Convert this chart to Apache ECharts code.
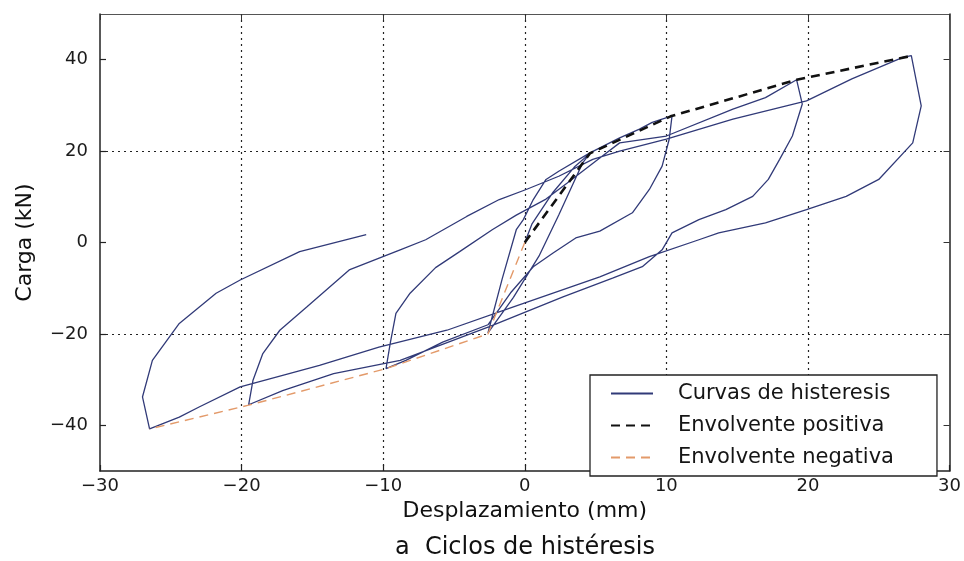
<!DOCTYPE html>
<html><head><meta charset="utf-8">
<script src="https://cdn.jsdelivr.net/npm/echarts@6/dist/echarts.min.js"></script>
<style>html,body{margin:0;padding:0;background:#fff}#c{width:964px;height:561px}</style>
</head><body><div id="c"></div>
<script>
// Hysteresis curve (displacement mm, load kN), in drawing order
const hystX = [0,0.5,2,3.5,4.6,4.1,2.4,1,-0.8,-2.6,
  -1.6,-0.6,-0.1,0.6,1.5,2.4,4.6,6.7,8.1,9,10.4,
  10.2,9.7,8.8,7.6,5.3,3.6,2,0.6,-1,-2.6,-5.8,-8.4,-9.8,
  -9.5,-9.1,-8.1,-6.3,-4.6,-2.3,-0.6,1.5,3,5.3,6.7,10,14.7,17,19.2,
  19.6,18.9,18,17.2,16.1,14.2,12.3,10.4,9.7,8.3,6.2,2.7,-2.5,-8.8,-13.5,-17.1,-19.5,
  -19.2,-18.5,-17.3,-15.4,-12.4,-8.8,-7,-4.1,-1.8,0.1,2.4,4.8,6.7,10,14.7,19.9,23.1,26.7,27.3,
  28,27.4,25,22.7,19.9,17,13.7,12.3,8.8,5.3,-0.8,-5.5,-10.3,-14.5,-17.1,-20.1,-23,-24.4,-26.5,
  -27,-26.3,-24.4,-21.8,-20.1,-15.9,-11.2];
const hystY = [0,4,11,16.5,19.5,17.5,6,-3,-12,-19.8,
  -8,2.8,5,9.4,13.8,15.6,19.6,22.9,24.8,26.3,27.7,
  22.6,16.7,11.6,6.5,2.5,1,-2.3,-5.3,-11,-18,-21.8,-25.8,-27.6,
  -22,-15.5,-11.1,-5.5,-2,2.8,6,9.5,13,18.5,21.8,23.3,29.2,31.7,35.6,
  30.3,23.3,18.2,13.8,10.1,7.2,5,2.1,-1.6,-5.3,-7.8,-11.9,-18.4,-25.8,-28.7,-32.4,-35.5,
  -30.2,-24.3,-19.2,-14.1,-6,-1.6,0.6,5.7,9.4,11.6,14.5,18.2,20,22.6,27,31,35.8,40.5,40.9,
  29.9,21.8,13.8,10.1,7.2,4.3,2.1,0.6,-3.1,-7.5,-14.1,-19.2,-22.9,-26.9,-29.1,-31.6,-36,-38.2,-40.8,
  -33.8,-25.8,-17.7,-11.1,-8.2,-2,1.7];
// Envelopes
const envPosX = [0, 4.6, 10.3, 19.2, 27.1];
const envPosY = [0, 19.5, 27.6, 35.6, 40.7];
const envNegX = [0, -2.6, -9.8, -19.5, -26.5];
const envNegY = [0, -20, -27.6, -35.6, -40.8];
// Axis ticks / labels
const yTicks = [-40, -20, 0, 20, 40];
const seriesNames = ['Curvas de histeresis', 'Envolvente positiva', 'Envolvente negativa'];
const xName = 'Desplazamiento (mm)';
const yName = 'Carga (kN)';
const caption = 'a  Ciclos de histéresis';

const FONT = '"DejaVu Sans", "Liberation Sans", Arial, sans-serif';
const pairs = (xs, ys) => xs.map((x, i) => [x, ys[i]]);
const fmt = v => (v < 0 ? '\u2212' + (-v) : String(v));

const chart = echarts.init(document.getElementById('c'), null, {renderer: 'canvas'});
chart.setOption({
  animation: false,
  backgroundColor: '#fff',
  grid: {left: 100, right: 14, top: 14, bottom: 90},
  xAxis: [{
    type: 'value', min: -30, max: 30, interval: 10, position: 'bottom',
    axisLine: {show: true, onZero: false, lineStyle: {color: '#222', width: 1.5}},
    axisTick: {show: true, inside: true, length: 6, lineStyle: {color: '#222', width: 1.2}},
    axisLabel: {fontSize: 18, color: '#1a1a1a', margin: 6, fontFamily: FONT, formatter: fmt},
    splitLine: {show: true, showMinLine: false, showMaxLine: false,
      lineStyle: {color: '#222', type: [2, 4], width: 1.2}},
    name: xName, nameLocation: 'middle', nameGap: 24,
    nameTextStyle: {fontSize: 22, color: '#111', fontFamily: FONT}
  }, {
    type: 'value', min: -30, max: 30, interval: 10, position: 'top',
    axisLine: {show: true, onZero: false, lineStyle: {color: '#555', width: 1.2}},
    axisTick: {show: true, inside: true, length: 6, lineStyle: {color: '#333'}},
    axisLabel: {show: false}, splitLine: {show: false}
  }],
  yAxis: [{
    type: 'value', min: -50, max: 50, interval: 10, position: 'left',
    axisLine: {show: true, onZero: false, lineStyle: {color: '#222', width: 1.5}},
    axisTick: {show: true, inside: true, length: 6, customValues: yTicks, lineStyle: {color: '#222', width: 1.2}},
    axisLabel: {fontSize: 18, color: '#1a1a1a', margin: 12, fontFamily: FONT, customValues: yTicks,
      formatter: v => (yTicks.indexOf(v) >= 0 ? fmt(v) : '')},
    splitLine: {show: true, showMinLine: true, showMaxLine: true,
      lineStyle: {color: ['rgba(0,0,0,0)', '#222'], type: [2, 4], width: 1.2}},
    name: yName, nameLocation: 'middle', nameGap: 64, nameRotate: 90,
    nameTextStyle: {fontSize: 22, color: '#111', fontFamily: FONT}
  }, {
    type: 'value', min: -50, max: 50, interval: 10, position: 'right',
    axisLine: {show: true, onZero: false, lineStyle: {color: '#222', width: 1.5}},
    axisTick: {show: true, inside: true, length: 6, customValues: yTicks, lineStyle: {color: '#333'}},
    axisLabel: {show: false}, splitLine: {show: false}
  }],
  legend: {
    data: seriesNames, orient: 'vertical', left: 590, top: 375,
    itemWidth: 42, itemHeight: 14, itemGap: 11,
    padding: [8, 43, 8, 20],
    borderColor: '#222', borderWidth: 1.3, backgroundColor: '#fff', borderRadius: 0,
    itemStyle: {opacity: 0},
    textStyle: {fontSize: 21, lineHeight: 16, color: '#151515', fontFamily: FONT, padding: [0, 0, 0, 20]}
  },
  graphic: [{
    type: 'text', x: 525, y: 548,
    style: {text: caption, align: 'center', verticalAlign: 'middle',
      font: '24px "DejaVu Sans", "Liberation Sans", Arial, sans-serif', fill: '#111'}
  }],
  series: [{
    name: seriesNames[0], type: 'line', data: pairs(hystX, hystY),
    symbol: 'none', smooth: false, z: 2,
    lineStyle: {color: '#313a78', width: 1.3}, itemStyle: {color: '#313a78'}
  }, {
    name: seriesNames[1], type: 'line', data: pairs(envPosX, envPosY),
    symbol: 'none', z: 4,
    lineStyle: {color: '#111', width: 2.6, type: [9, 6]}, itemStyle: {color: '#111'}
  }, {
    name: seriesNames[2], type: 'line', data: pairs(envNegX, envNegY),
    symbol: 'none', z: 3,
    lineStyle: {color: '#e39a6a', width: 1.4, type: [9, 6]}, itemStyle: {color: '#e39a6a'}
  }]
});
</script></body></html>
